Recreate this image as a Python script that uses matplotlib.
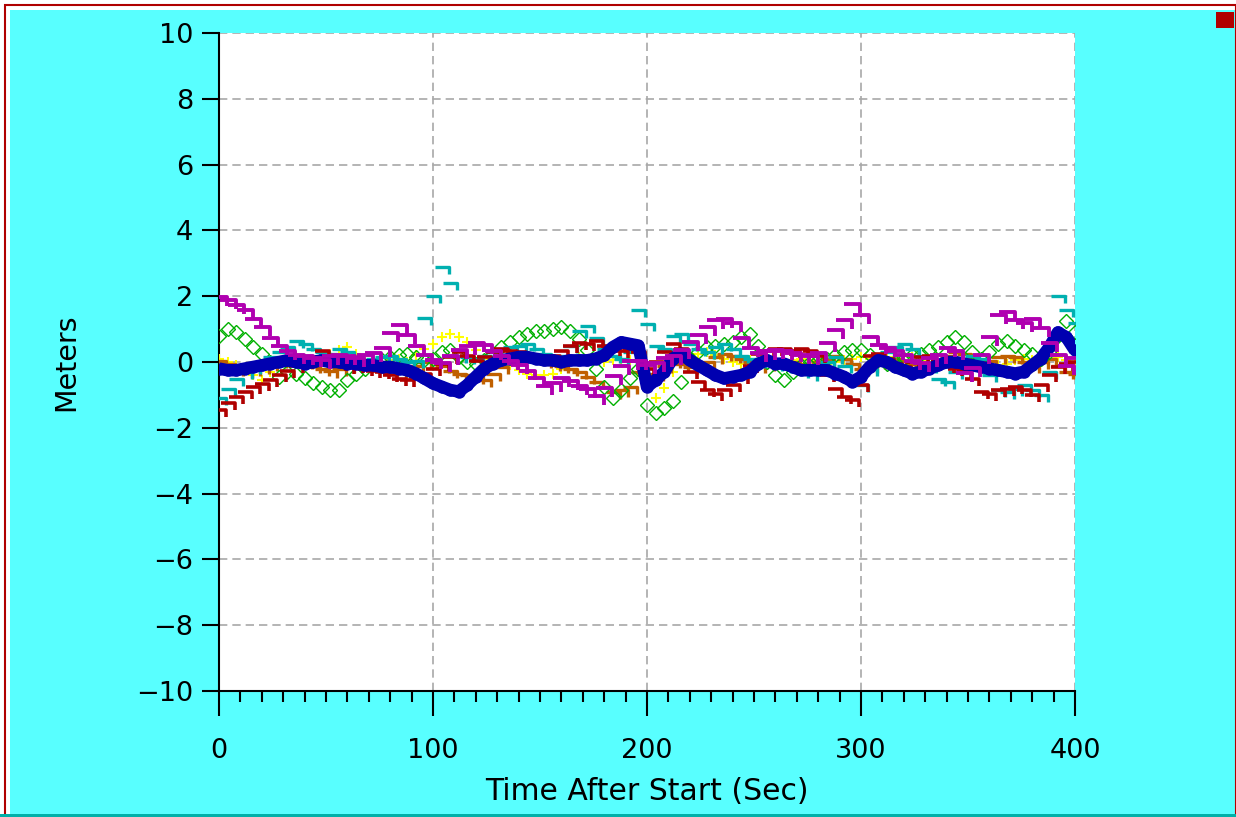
import numpy as np
import matplotlib
matplotlib.use("Agg")
import matplotlib.pyplot as plt
from matplotlib.path import Path
from matplotlib.patches import Rectangle
from matplotlib.ticker import MultipleLocator

# time samples (seconds after start), every 4 s
time_s = np.arange(0, 401, 4)

blue = [-0.20, -0.25, -0.25, -0.20, -0.15, -0.10, -0.05, 0.00, 0.05, 0.00,
        -0.05, 0.00, 0.05, 0.00, 0.00, -0.05, -0.05, -0.10, -0.10, -0.15,
        -0.15, -0.20, -0.25, -0.35, -0.50, -0.65, -0.75, -0.85, -0.90, -0.70,
        -0.45, -0.20, -0.05, 0.05, 0.10, 0.15, 0.15, 0.10, 0.05, 0.05,
        0.00, 0.05, 0.05, 0.05, 0.10, 0.20, 0.45, 0.60, 0.55, 0.50,
        -0.75, -0.55, -0.30, 0.10, 0.25, 0.05, -0.10, -0.25, -0.40, -0.50,
        -0.45, -0.40, -0.30, -0.05, 0.05, -0.05, -0.05, -0.15, -0.25, -0.25,
        -0.25, -0.25, -0.35, -0.45, -0.60, -0.45, -0.15, 0.05, 0.00, -0.15,
        -0.25, -0.35, -0.30, -0.20, -0.10, 0.00, 0.00, -0.05, -0.10, -0.15,
        -0.20, -0.25, -0.30, -0.35, -0.30, -0.10, 0.10, 0.45, 0.90, 0.75,
        0.35]

magenta = [1.85, 1.75, 1.60, 1.45, 1.20, 0.95, 0.60, 0.35, 0.20, 0.10,
           0.05, 0.00, -0.05, 0.05, 0.10, 0.05, 0.00, 0.10, 0.15, 0.30,
           0.75, 1.00, 0.70, 0.35, 0.10, -0.05, -0.15, 0.05, 0.25, 0.35,
           0.45, 0.40, 0.20, 0.05, -0.10, -0.20, -0.40, -0.60, -0.85, -0.75,
           -0.60, -0.70, -0.85, -0.95, -1.15, -0.90, -0.55, -0.25, -0.10, -0.10,
           -0.20, -0.15, 0.00, 0.05, 0.25, 0.50, 0.70, 0.95, 1.15, 1.20,
           1.05, 0.60, 0.30, 0.15, 0.20, 0.25, 0.20, 0.15, 0.10, 0.05,
           0.15, 0.45, 0.85, 1.15, 1.65, 1.30, 0.65, 0.40, 0.30, 0.20,
           0.10, -0.10, -0.15, 0.00, 0.10, 0.30, 0.20, -0.45, -0.30, 0.10,
           0.65, 1.30, 1.40, 1.15, 1.05, 1.20, 0.90, 0.45, 0.10, -0.25,
           0.00]

green = [0.80, 1.00, 0.90, 0.70, 0.45, 0.25, 0.00, -0.45, -0.30, -0.35,
         -0.50, -0.65, -0.75, -0.85, -0.85, -0.55, -0.35, -0.20, -0.05, 0.05,
         0.15, 0.20, 0.25, 0.15, 0.05, 0.10, 0.30, 0.35, 0.15, 0.00,
         -0.05, 0.05, 0.25, 0.45, 0.60, 0.75, 0.85, 0.95, 0.95, 1.00,
         1.05, 0.95, 0.70, 0.35, -0.20, -0.75, -1.10, -0.85, -0.50, -0.20,
         -1.30, -1.55, -1.40, -1.20, -0.60, 0.10, 0.30, 0.45, 0.50, 0.55,
         0.60, 0.75, 0.85, 0.50, 0.00, -0.40, -0.55, -0.30, -0.10, 0.00,
         0.05, 0.10, 0.20, 0.30, 0.35, 0.35, 0.20, 0.05, -0.05, 0.00,
         0.10, 0.20, 0.25, 0.35, 0.45, 0.60, 0.75, 0.60, 0.30, 0.10,
         0.30, 0.55, 0.65, 0.50, 0.35, 0.25, 0.10, 0.30, 0.80, 1.25,
         0.90]

red = [-1.55, -1.35, -1.15, -1.00, -0.85, -0.75, -0.65, -0.50, -0.35, -0.20,
       -0.10, 0.05, 0.25, 0.00, -0.15, -0.25, -0.20, -0.30, -0.35, -0.40,
       -0.50, -0.60, -0.65, -0.55, -0.45, -0.30, -0.15, 0.05, 0.20, 0.10,
       -0.05, 0.05, 0.20, 0.30, 0.25, 0.20, 0.10, 0.05, 0.00, 0.10,
       0.25, 0.40, 0.50, 0.45, 0.55, 0.40, 0.30, 0.25, 0.30, 0.20,
       -0.30, -0.10, 0.20, 0.45, 0.30, -0.40, -0.70, -0.95, -1.05, -0.95,
       -0.80, -0.55, -0.20, 0.15, 0.25, 0.30, 0.30, 0.25, 0.30, 0.25,
       0.10, -0.50, -0.90, -1.15, -1.25, -0.80, 0.10, 0.15, 0.00, -0.15,
       -0.25, -0.10, 0.05, 0.10, -0.05, -0.20, -0.30, -0.35, -0.60, -1.00,
       -1.05, -0.95, -0.90, -0.85, -0.95, -1.10, -0.80, -0.50, -0.25, -0.15,
       -0.10]

orange = [-0.05, -0.15, -0.30, -0.35, -0.30, -0.25, -0.15, -0.05, 0.05, 0.00,
          -0.10, -0.20, -0.30, -0.35, -0.30, -0.20, -0.10, -0.05, -0.10, -0.20,
          -0.30, -0.35, -0.30, -0.20, -0.10, -0.05, -0.20, -0.35, -0.45, -0.50,
          -0.55, -0.65, -0.45, -0.25, -0.10, 0.05, 0.10, 0.05, -0.05, -0.15,
          -0.20, -0.30, -0.40, -0.55, -0.70, -0.85, -1.00, -0.95, -0.85, -0.40,
          -0.60, -0.45, -0.20, -0.05, -0.15, -0.25, -0.20, -0.10, 0.05, 0.15,
          0.10, 0.00, -0.10, -0.20, -0.15, -0.10, -0.05, -0.10, -0.15, -0.20,
          -0.10, 0.00, 0.10, 0.00, -0.15, -0.30, -0.20, -0.10, -0.05, 0.00,
          -0.05, -0.15, -0.20, -0.15, -0.05, 0.10, 0.20, 0.15, 0.00, -0.10,
          -0.05, 0.05, 0.10, 0.05, -0.10, -0.20, -0.10, 0.00, -0.20, -0.40,
          -0.45]

cyan = [-1.20, -0.90, -0.60, -0.40, -0.25, -0.10, 0.05, 0.20, 0.35, 0.55,
        0.45, 0.30, 0.20, 0.15, 0.30, 0.20, 0.05, -0.05, 0.00, 0.05,
        0.10, 0.00, -0.10, -0.05, 1.25, 1.90, 2.80, 2.30, 0.10, 0.05,
        0.00, 0.10, 0.20, 0.30, 0.35, 0.40, 0.45, 0.30, 0.15, 0.05,
        0.10, 0.40, 0.85, 1.00, 0.65, 0.30, 0.10, 0.00, 0.20, 1.50,
        1.05, 0.40, 0.30, 0.70, 0.75, 0.45, 0.30, 0.20, 0.35, 0.45,
        0.30, 0.10, 0.00, -0.05, -0.10, -0.15, -0.20, -0.25, -0.35, -0.45,
        -0.30, -0.10, 0.05, -0.20, -0.60, -0.80, -0.30, 0.05, 0.20, 0.35,
        0.45, 0.30, 0.10, -0.20, -0.60, -0.70, -0.40, -0.10, 0.10, 0.00,
        -0.50, -0.95, -1.00, -0.90, -0.80, -0.95, -1.10, -0.40, 1.90, 1.50,
        1.10]

yellow = [0.10, 0.00, -0.10, -0.20, -0.40, -0.55, -0.30, 0.00, 0.10, 0.15,
          0.10, 0.05, 0.15, 0.25, 0.35, 0.45, 0.25, 0.05, -0.05, 0.00,
          0.05, 0.10, 0.00, 0.20, 0.40, 0.55, 0.75, 0.85, 0.75, 0.60,
          0.35, 0.10, -0.05, 0.00, -0.10, -0.25, -0.35, -0.40, -0.40, -0.35,
          -0.20, 0.05, 0.15, 0.10, 0.05, 0.00, 0.05, 0.10, 0.05, -0.30,
          -0.70, -1.10, -0.80, -0.30, 0.00, 0.15, 0.25, 0.30, 0.20, 0.10,
          0.00, -0.05, 0.05, 0.10, 0.10, 0.05, 0.00, 0.05, 0.10, 0.05,
          0.00, -0.05, 0.00, 0.05, 0.10, 0.15, 0.10, 0.05, 0.10, 0.15,
          0.20, 0.15, 0.05, 0.00, -0.05, 0.00, 0.10, 0.05, -0.05, -0.10,
          -0.15, -0.10, -0.05, 0.05, 0.10, 0.05, 0.00, 0.10, 0.15, 0.05,
          0.00]

x_ticks = [0, 100, 200, 300, 400]
y_ticks = [-10, -8, -6, -4, -2, 0, 2, 4, 6, 8, 10]

W, H = 1236, 817
fig = plt.figure(figsize=(W / 100, H / 100), dpi=100)
fig.patch.set_facecolor("white")

# background panel / border
fig.patches.append(Rectangle((10 / W, 3 / H), 1 - 10 / W, 1 - 13 / H,
                             transform=fig.transFigure, facecolor="#58FFFF",
                             edgecolor="none", zorder=-9))
fig.patches.append(Rectangle((5 / W, 0), 1 - 5 / W, 1 - 5 / H,
                             transform=fig.transFigure, facecolor="none",
                             edgecolor="#B00000", lw=1.5, zorder=-8))
fig.patches.append(Rectangle((0, 0), 1, 3 / H, transform=fig.transFigure,
                             facecolor="#00B0A8", edgecolor="none", zorder=-7))
fig.patches.append(Rectangle((1216 / W, 1 - 28 / H), 18 / W, 16 / H,
                             transform=fig.transFigure, facecolor="#B00000",
                             edgecolor="none", zorder=5))

ax = fig.add_axes([219 / W, 1 - 691 / H, (1075 - 219) / W, (691 - 33) / H])
ax.set_facecolor("white")
ax.set_xlim(0, 400)
ax.set_ylim(-10, 10)

# marker shapes
hook = Path([(-1.0, 0.5), (1.0, 0.5), (1.0, -0.6)],
            [Path.MOVETO, Path.LINETO, Path.LINETO])

common = dict(linestyle="none", clip_on=True)
ax.plot(time_s, yellow, marker="+", ms=7, mew=1.5, color="#FFFF00", zorder=3, **common)
ax.plot(time_s, orange, marker=hook, ms=10, mew=2.4, mfc="none", color="#C06000", zorder=3, **common)
ax.plot(time_s, green, marker="D", ms=7, mew=1.0, mfc="none", color="#00B000", zorder=3, **common)
ax.plot(time_s, cyan, marker=hook, ms=10, mew=2.4, mfc="none", color="#00B0B0", zorder=3, **common)
ax.plot(time_s, red, marker=hook, ms=10, mew=2.6, mfc="none", color="#B00000", zorder=3, **common)
ax.plot(time_s, blue, color="#0000B0", lw=9, zorder=4, solid_capstyle="butt")
ax.plot(time_s, blue, marker="o", ms=9, mew=0, color="#0000B0", zorder=4, **common)
ax.plot(time_s, magenta, marker=hook, ms=11, mew=2.8, mfc="none", color="#B000B0", zorder=5, **common)

# grid
ax.set_xticks(x_ticks)
ax.set_yticks(y_ticks)
ax.xaxis.set_minor_locator(MultipleLocator(10))
ax.grid(True, which="major", color="#A8A8A8", linestyle=(0, (5, 3)), lw=1.2, zorder=0)
ax.set_axisbelow(True)

for s in ["top", "right"]:
    ax.spines[s].set_visible(False)
for s in ["left", "bottom"]:
    ax.spines[s].set_color("black")
    ax.spines[s].set_linewidth(1.5)

ax.tick_params(axis="y", which="major", direction="out", length=12.5, width=1.5,
               pad=6, labelsize=19.5)
ax.tick_params(axis="x", which="major", direction="out", length=18, width=1.5,
               pad=16, labelsize=19.5)
ax.tick_params(axis="x", which="minor", direction="out", length=8, width=1.5)
ax.set_yticklabels([("\u2212" + str(-v)) if v < 0 else str(v) for v in y_ticks])
ax.set_xticklabels([str(v) for v in x_ticks])

ax.set_ylabel("Meters", fontsize=20.5, labelpad=40)
ax.set_xlabel("Time After Start (Sec)", fontsize=21.5, labelpad=9)

fig.savefig("out.png", dpi=100)
